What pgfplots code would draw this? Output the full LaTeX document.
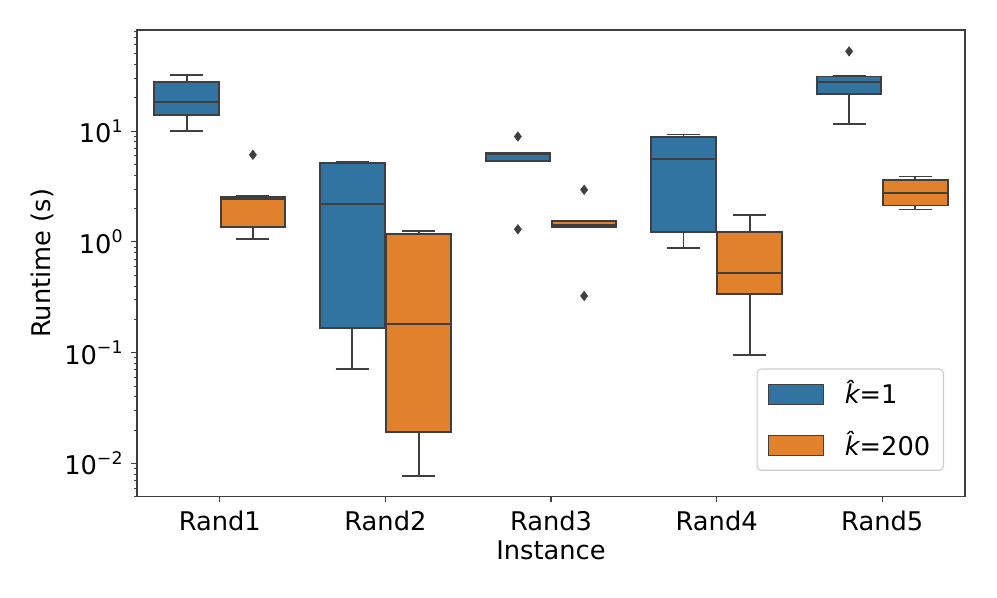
\documentclass[border=0pt]{standalone}
\usepackage{fontspec}
\setmainfont{DejaVu Sans}
\usepackage{pgfplots}
\pgfplotsset{compat=1.18}
\usepgfplotslibrary{statistics}
\definecolor{sbblue}{RGB}{50,116,161}
\definecolor{sborange}{RGB}{225,129,44}
\definecolor{sbedge}{RGB}{63,63,63}
\newcommand{\tenp}[1]{10\raisebox{7.5pt}{\fontsize{12.5}{12.5}\selectfont #1}}
\pgfplotsset{
  bxb/.style={forget plot, boxplot/draw direction=y, fill=sbblue, draw=sbedge, line width=1.4pt,
    mark=diamond*, mark size=3.4pt, mark options={fill=sbedge, draw=sbedge, line width=0.4pt}},
  bxo/.style={forget plot, boxplot/draw direction=y, fill=sborange, draw=sbedge, line width=1.4pt,
    mark=diamond*, mark size=3.4pt, mark options={fill=sbedge, draw=sbedge, line width=0.4pt}},
}
\begin{document}
\fontsize{18.5}{22}\selectfont
\begin{tikzpicture}
\begin{axis}[
  at={(0,0)}, anchor=south west,
  scale only axis, width=596pt, height=336pt,
  xmin=-0.5, xmax=4.5, ymode=log, ymin=0.005, ymax=81.7,
  xtick={0,1,2,3,4}, xticklabels={Rand1,Rand2,Rand3,Rand4,Rand5},
  ytick={0.01,0.1,1,10},
  yticklabels={\tenp{−2},\tenp{−1},\tenp{0},\tenp{1}},
  minor ytick={0.005,0.006,0.007,0.008,0.009,0.02,0.03,0.04,0.05,0.06,0.07,0.08,0.09,0.2,0.3,0.4,0.5,0.6,0.7,0.8,0.9,2,3,4,5,6,7,8,9,20,30,40,50,60,70,80},
  tick pos=left, tick align=outside,
  major tick length=4pt, minor tick length=2.2pt,
  every tick/.style={sbedge, line width=0.8pt},
  every minor tick/.style={sbedge, line width=0.6pt},
  axis line style={sbedge, line width=0.8pt},
  xlabel={Instance}, ylabel={Runtime (s)},
  every axis x label/.style={at={(rel axis cs:0.5,0)}, yshift=-45.4pt, anchor=base},
  every axis y label/.style={at={(rel axis cs:0,0.5)}, xshift=-68.4pt, rotate=90, anchor=center},
  boxplot/box extend=0.39, boxplot/whisker extend=0.2,
  legend style={at={(0.9746,0.0557)}, anchor=south east, draw=black!20, rounded corners=3pt,
    fill=white, inner xsep=7.5pt, inner ysep=6pt, row sep=13pt, column sep=13pt, line width=0.8pt,
    nodes={inner sep=2pt}},
  legend cell align=left,
  legend image code/.code={\draw[#1, sharp corners] (0pt,-7.2pt) rectangle (40pt,7.2pt);},
]
% Rand1
\addplot[bxb, boxplot prepared={draw position=-0.2, lower whisker=10.1, lower quartile=14.0, median=18.3, upper quartile=27.5, upper whisker=31.8}] coordinates {};
\addplot[bxo, boxplot prepared={draw position=0.2, lower whisker=1.06, lower quartile=1.36, median=2.45, upper quartile=2.55, upper whisker=2.57}] coordinates {(0,6.11)};
% Rand2
\addplot[bxb, boxplot prepared={draw position=0.8, lower whisker=0.0717, lower quartile=0.166, median=2.19, upper quartile=5.18, upper whisker=5.28}] coordinates {};
\addplot[bxo, boxplot prepared={draw position=1.2, lower whisker=0.00774, lower quartile=0.0193, median=0.182, upper quartile=1.18, upper whisker=1.257}] coordinates {};
% Rand3
\addplot[bxb, boxplot prepared={draw position=1.8, lower whisker=5.36, lower quartile=5.40, median=6.15, upper quartile=6.35, upper whisker=6.41}] coordinates {(0,8.94) (0,1.30)};
\addplot[bxo, boxplot prepared={draw position=2.2, lower whisker=1.35, lower quartile=1.37, median=1.42, upper quartile=1.54, upper whisker=1.557}] coordinates {(0,2.95) (0,0.325)};
% Rand4
\addplot[bxb, boxplot prepared={draw position=2.8, lower whisker=0.877, lower quartile=1.23, median=5.58, upper quartile=8.83, upper whisker=9.31}] coordinates {};
\addplot[bxo, boxplot prepared={draw position=3.2, lower whisker=0.0947, lower quartile=0.339, median=0.525, upper quartile=1.23, upper whisker=1.765}] coordinates {};
% Rand5
\addplot[bxb, boxplot prepared={draw position=3.8, lower whisker=11.7, lower quartile=21.7, median=27.9, upper quartile=31.1, upper whisker=31.3}] coordinates {(0,52.4)};
\addplot[bxo, boxplot prepared={draw position=4.2, lower whisker=1.96, lower quartile=2.13, median=2.75, upper quartile=3.63, upper whisker=3.89}] coordinates {};
\addlegendimage{fill=sbblue, draw=sbedge, line width=0.6pt}
\addlegendentry{\textit{\^{k}}=1}
\addlegendimage{fill=sborange, draw=sbedge, line width=0.6pt}
\addlegendentry{\textit{\^{k}}=200}
\end{axis}
\pgfresetboundingbox
\path[use as bounding box] (-98.6pt,-72.7pt) rectangle (619pt,357.6pt);
\end{tikzpicture}
\end{document}
